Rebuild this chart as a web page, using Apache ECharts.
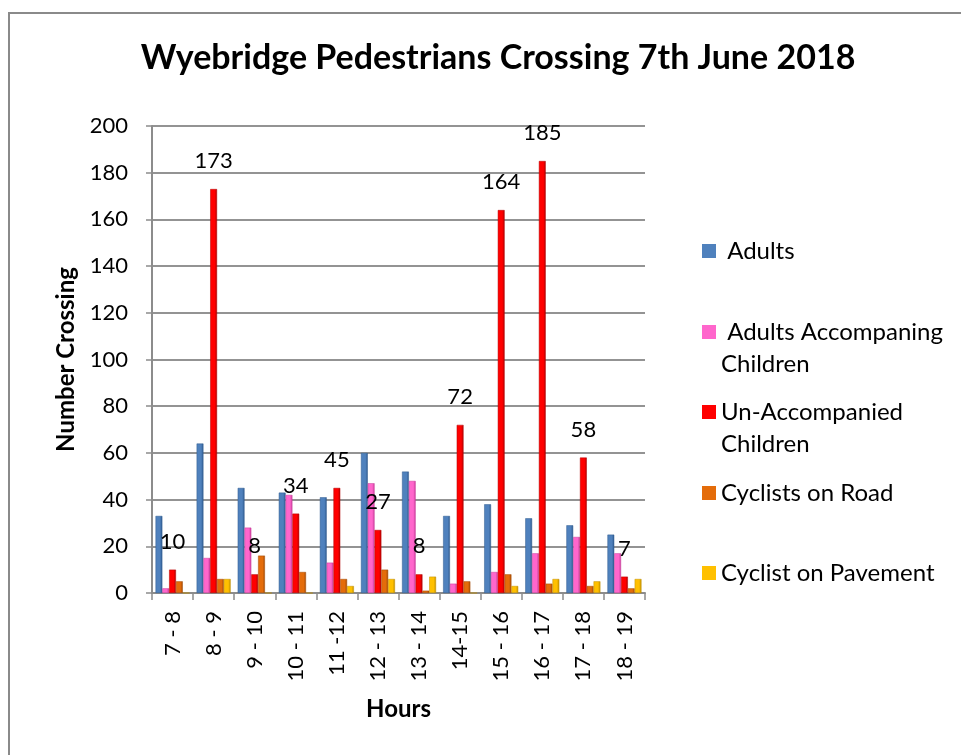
<!DOCTYPE html>
<html>
<head>
<meta charset="utf-8">
<script src="https://cdn.jsdelivr.net/npm/echarts@6/dist/echarts.min.js"></script>
<style>
html,body{margin:0;padding:0;background:#fff;}
#chart{width:961px;height:755px;}
</style>
</head>
<body>
<div id="chart"></div>
<script>
// ---- data ----
var categories = ["7 - 8","8 - 9","9 - 10","10 - 11","11 -12","12 - 13","13 - 14","14-15","15 - 16","16 - 17","17 - 18","18 - 19"];
var adults =            [33, 64, 45, 43, 41, 60, 52, 33, 38, 32, 29, 25];
var adultsWithChildren = [2, 15, 28, 42, 13, 47, 48,  4,  9, 17, 24, 17];
var unaccompanied =     [10,173,  8, 34, 45, 27,  8, 72,164,185, 58,  7];
var cyclistsRoad =       [5,  6, 16,  9,  6, 10,  1,  5,  8,  4,  3,  2];
var cyclistsPavement =   [0,  6,  0,  0,  3,  6,  7,  0,  3,  6,  5,  6];
var seriesNames = ["Adults","Adults Accompaning Children","Un-Accompanied Children","Cyclists on Road","Cyclist on Pavement"];
var legendTexts = [" Adults", "\n Adults Accompaning\nChildren", "\nUn-Accompanied\nChildren", "Cyclists on Road", "Cyclist on Pavement"];
var yTicks = {min:0, max:200, interval:20};

var colors = ["#4F81BD","#FF66CC","#FF0000","#E46C0A","#FFC000"];
var darks  = ["#2F5A8E","#C83C9A","#B00000","#A34A04","#C08E00"];
var FONT = "Lato";

function grad(i){
  return new echarts.graphic.LinearGradient(0,0,1,0,[
    {offset:0,color:colors[i]},{offset:0.65,color:colors[i]},{offset:1,color:darks[i]}
  ]);
}

var values = [adults, adultsWithChildren, unaccompanied, cyclistsRoad, cyclistsPavement];
var series = values.map(function(v,i){
  var s = {
    name: seriesNames[i],
    type: 'bar',
    data: v,
    barWidth: 6.8,
    barGap: '0%',
    itemStyle: {color: grad(i), borderColor: darks[i], borderWidth: 0.5},
    emphasis: {disabled: true}
  };
  if (i === 2) {
    s.label = {show:true, position:'top', distance:17, fontFamily:FONT, fontSize:22, color:'#000'};
  }
  return s;
});

var legendCenters = [246, 327, 407, 488, 568];
var legends = seriesNames.map(function(n,i){
  var multi = legendTexts[i].indexOf('\n') >= 0;
  return {
    data: [{name: n, itemStyle:{color: colors[i], borderWidth:0}}],
    left: 697,
    top: legendCenters[i] - (multi ? 48 : 16),
    orient: 'vertical',
    icon: 'rect',
    itemWidth: 14,
    itemHeight: 14,
    formatter: function(){ return legendTexts[i]; },
    textStyle: {fontFamily:FONT, fontSize:24, lineHeight:32, color:'#000'}
  };
});

var chart = echarts.init(document.getElementById('chart'), null, {renderer:'canvas'});
chart.setOption({
  animation: false,
  backgroundColor: '#fff',
  title: {
    text: 'Wyebridge Pedestrians Crossing 7th June 2018',
    left: 493, top: 36, textAlign: 'center',
    textStyle: {fontFamily:FONT, fontWeight:'bold', fontSize:34, color:'#000'}
  },
  graphic: [{
    type:'rect', shape:{x:9, y:13, width:1000, height:800},
    style:{fill:'none', stroke:'#8a8a8a', lineWidth:2}, silent:true
  }],
  legend: legends,
  grid: {left:152, right:316, top:126, bottom:162},
  xAxis: {
    type:'category',
    data: categories,
    name: 'Hours', nameLocation:'middle', nameGap:104,
    nameTextStyle: {fontFamily:FONT, fontWeight:'bold', fontSize:24, color:'#000'},
    axisLine: {lineStyle:{color:'#8c8c8c', width:2}},
    axisTick: {show:true, length:7, lineStyle:{color:'#8c8c8c', width:1.5}},
    axisLabel: {rotate:90, margin:18, fontFamily:FONT, fontSize:22, color:'#000', interval:0}
  },
  yAxis: {
    type:'value', min:yTicks.min, max:yTicks.max, interval:yTicks.interval,
    name: 'Number Crossing', nameLocation:'middle', nameGap:74,
    nameTextStyle: {fontFamily:FONT, fontWeight:'bold', fontSize:24, color:'#000'},
    axisLine: {show:true, lineStyle:{color:'#8c8c8c', width:2}},
    axisTick: {show:true, length:6, lineStyle:{color:'#8c8c8c', width:1.5}},
    axisLabel: {margin:24, fontFamily:FONT, fontSize:22, color:'#000'},
    splitLine: {lineStyle:{color:'#939393', width:2}}
  },
  series: series
});
</script>
</body>
</html>
